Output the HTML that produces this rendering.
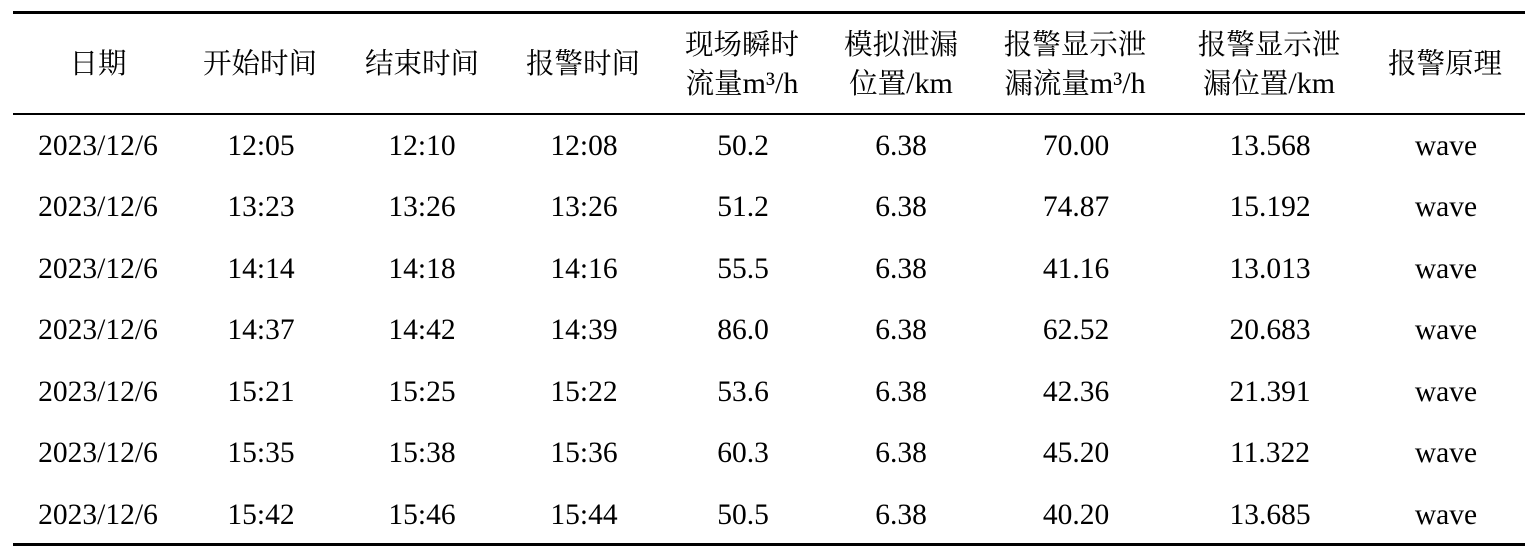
<!DOCTYPE html>
<html>
<head>
<meta charset="utf-8">
<style>
  html, body { margin:0; padding:0; background:#fff; }
  body { width:1530px; height:554px; position:relative; overflow:hidden; }
  .rule { position:absolute; left:13px; width:1512px; background:#000; }
  .h { position:absolute; width:240px; margin-left:-120px; text-align:center;
       font-family:"Liberation Serif","Noto Serif CJK SC",serif; font-size:28.5px;
       height:38px; line-height:38px; color:#000; white-space:nowrap; }
  .h .l { font-family:"Liberation Serif",serif; font-size:30px; }
  .d { position:absolute; width:200px; margin-left:-100px; text-align:center;
       font-family:"Liberation Serif",serif; font-size:29.5px; line-height:29.5px;
       color:#000; white-space:nowrap; }
</style>
</head>
<body>
<div class="rule" style="top:11px;height:3px;"></div>
<div class="rule" style="top:113px;height:2px;"></div>
<div class="rule" style="top:543px;height:3px;"></div>

<!-- header -->
<div class="h" style="left:98px;top:45.5px;">日期</div>
<div class="h" style="left:260px;top:45.5px;">开始时间</div>
<div class="h" style="left:422px;top:45.5px;">结束时间</div>
<div class="h" style="left:583px;top:45.5px;">报警时间</div>
<div class="h" style="left:742px;top:26.5px;">现场瞬时</div>
<div class="h" style="left:742px;top:64.5px;">流量<span class="l">m³/h</span></div>
<div class="h" style="left:901px;top:26.5px;">模拟泄漏</div>
<div class="h" style="left:901px;top:64.5px;">位置<span class="l">/km</span></div>
<div class="h" style="left:1075px;top:26.5px;">报警显示泄</div>
<div class="h" style="left:1075px;top:64.5px;">漏流量<span class="l">m³/h</span></div>
<div class="h" style="left:1269px;top:26.5px;">报警显示泄</div>
<div class="h" style="left:1269px;top:64.5px;">漏位置<span class="l">/km</span></div>
<div class="h" style="left:1445px;top:45.5px;">报警原理</div>

<!-- rows -->
<div class="d" style="left:98px;top:131.8px;">2023/12/6</div>
<div class="d" style="left:261px;top:131.8px;">12:05</div>
<div class="d" style="left:422px;top:131.8px;">12:10</div>
<div class="d" style="left:584px;top:131.8px;">12:08</div>
<div class="d" style="left:743px;top:131.8px;">50.2</div>
<div class="d" style="left:901px;top:131.8px;">6.38</div>
<div class="d" style="left:1076px;top:131.8px;">70.00</div>
<div class="d" style="left:1270px;top:131.8px;">13.568</div>
<div class="d" style="left:1446px;top:131.8px;">wave</div>

<div class="d" style="left:98px;top:193.3px;">2023/12/6</div>
<div class="d" style="left:261px;top:193.3px;">13:23</div>
<div class="d" style="left:422px;top:193.3px;">13:26</div>
<div class="d" style="left:584px;top:193.3px;">13:26</div>
<div class="d" style="left:743px;top:193.3px;">51.2</div>
<div class="d" style="left:901px;top:193.3px;">6.38</div>
<div class="d" style="left:1076px;top:193.3px;">74.87</div>
<div class="d" style="left:1270px;top:193.3px;">15.192</div>
<div class="d" style="left:1446px;top:193.3px;">wave</div>

<div class="d" style="left:98px;top:254.8px;">2023/12/6</div>
<div class="d" style="left:261px;top:254.8px;">14:14</div>
<div class="d" style="left:422px;top:254.8px;">14:18</div>
<div class="d" style="left:584px;top:254.8px;">14:16</div>
<div class="d" style="left:743px;top:254.8px;">55.5</div>
<div class="d" style="left:901px;top:254.8px;">6.38</div>
<div class="d" style="left:1076px;top:254.8px;">41.16</div>
<div class="d" style="left:1270px;top:254.8px;">13.013</div>
<div class="d" style="left:1446px;top:254.8px;">wave</div>

<div class="d" style="left:98px;top:316.3px;">2023/12/6</div>
<div class="d" style="left:261px;top:316.3px;">14:37</div>
<div class="d" style="left:422px;top:316.3px;">14:42</div>
<div class="d" style="left:584px;top:316.3px;">14:39</div>
<div class="d" style="left:743px;top:316.3px;">86.0</div>
<div class="d" style="left:901px;top:316.3px;">6.38</div>
<div class="d" style="left:1076px;top:316.3px;">62.52</div>
<div class="d" style="left:1270px;top:316.3px;">20.683</div>
<div class="d" style="left:1446px;top:316.3px;">wave</div>

<div class="d" style="left:98px;top:377.8px;">2023/12/6</div>
<div class="d" style="left:261px;top:377.8px;">15:21</div>
<div class="d" style="left:422px;top:377.8px;">15:25</div>
<div class="d" style="left:584px;top:377.8px;">15:22</div>
<div class="d" style="left:743px;top:377.8px;">53.6</div>
<div class="d" style="left:901px;top:377.8px;">6.38</div>
<div class="d" style="left:1076px;top:377.8px;">42.36</div>
<div class="d" style="left:1270px;top:377.8px;">21.391</div>
<div class="d" style="left:1446px;top:377.8px;">wave</div>

<div class="d" style="left:98px;top:439.3px;">2023/12/6</div>
<div class="d" style="left:261px;top:439.3px;">15:35</div>
<div class="d" style="left:422px;top:439.3px;">15:38</div>
<div class="d" style="left:584px;top:439.3px;">15:36</div>
<div class="d" style="left:743px;top:439.3px;">60.3</div>
<div class="d" style="left:901px;top:439.3px;">6.38</div>
<div class="d" style="left:1076px;top:439.3px;">45.20</div>
<div class="d" style="left:1270px;top:439.3px;">11.322</div>
<div class="d" style="left:1446px;top:439.3px;">wave</div>

<div class="d" style="left:98px;top:500.8px;">2023/12/6</div>
<div class="d" style="left:261px;top:500.8px;">15:42</div>
<div class="d" style="left:422px;top:500.8px;">15:46</div>
<div class="d" style="left:584px;top:500.8px;">15:44</div>
<div class="d" style="left:743px;top:500.8px;">50.5</div>
<div class="d" style="left:901px;top:500.8px;">6.38</div>
<div class="d" style="left:1076px;top:500.8px;">40.20</div>
<div class="d" style="left:1270px;top:500.8px;">13.685</div>
<div class="d" style="left:1446px;top:500.8px;">wave</div>
</body>
</html>
